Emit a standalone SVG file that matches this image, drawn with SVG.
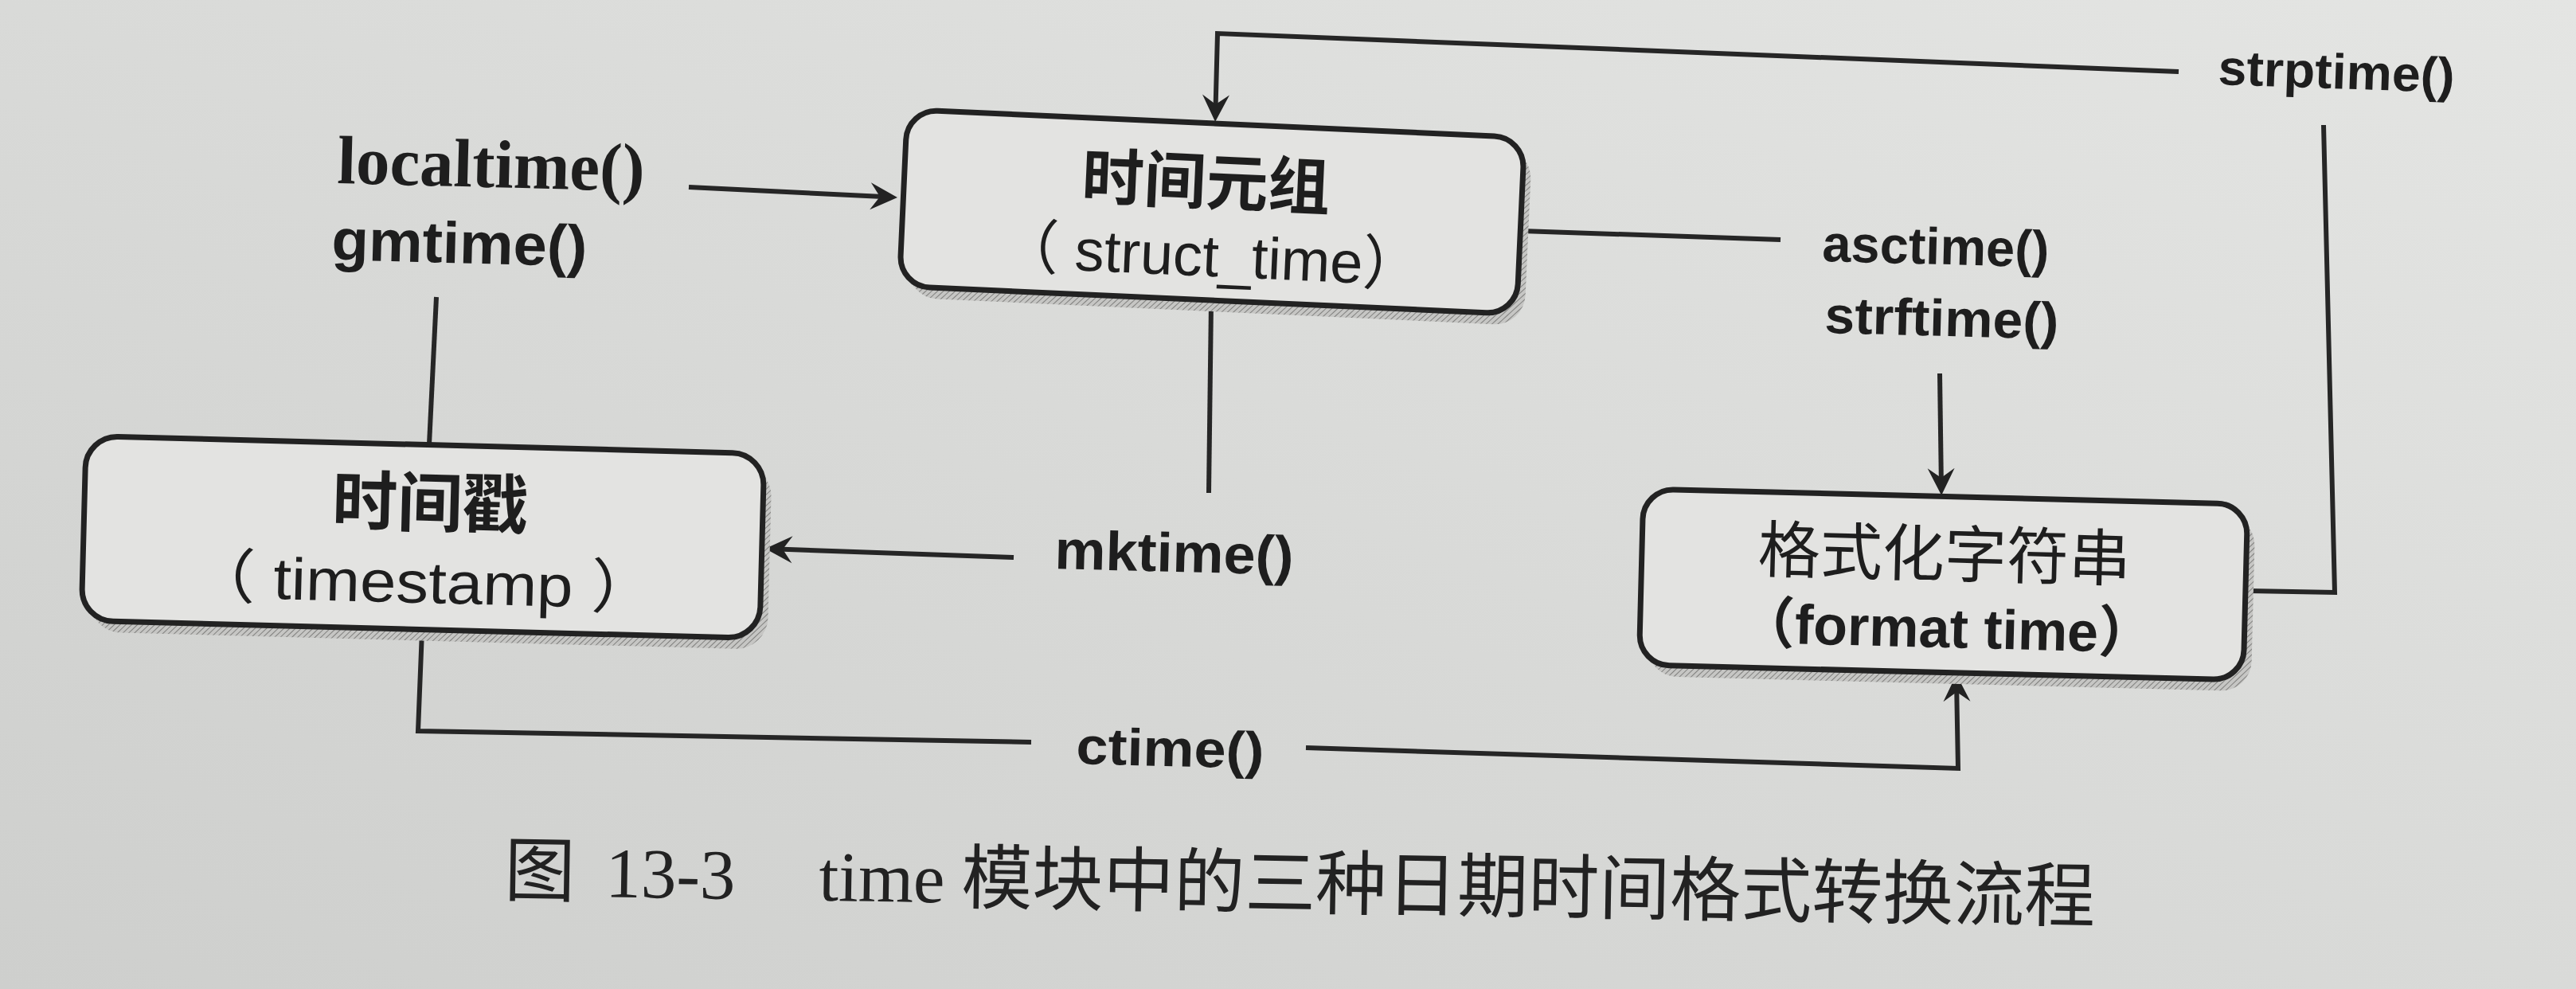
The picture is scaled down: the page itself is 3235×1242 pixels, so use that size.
<svg xmlns="http://www.w3.org/2000/svg" width="3235" height="1242" viewBox="0 0 3235 1242">
<defs>
<linearGradient id="paper" x1="0" y1="1" x2="1" y2="0">
<stop offset="0" stop-color="#cecfcd"/>
<stop offset="0.5" stop-color="#d9dad8"/>
<stop offset="1" stop-color="#e4e5e3"/>
</linearGradient>
<pattern id="hatch" width="5" height="5" patternUnits="userSpaceOnUse" patternTransform="rotate(45)">
<rect width="5" height="5" fill="#c6c6c4"/>
<line x1="0" y1="0" x2="0" y2="5" stroke="#80807e" stroke-width="2"/>
</pattern>
<marker id="arr" markerUnits="userSpaceOnUse" markerWidth="48" markerHeight="40" viewBox="-36 -20 48 40" refX="-8" refY="0" orient="auto">
<path d="M0,0 L-34,-17 L-22,0 L-34,17 Z" fill="#222"/>
</marker>
</defs>
<style>
.box{fill:#e3e3e1;stroke:#222;stroke-width:7}
.shadow{fill:url(#hatch);stroke:none}
.conn{fill:none;stroke:#262626;stroke-width:6;stroke-linejoin:miter}
.lbl{font-family:"Liberation Sans",sans-serif;font-weight:bold;fill:#1e1e1e}
.serif{font-family:"Liberation Serif",serif;font-weight:bold;fill:#1e1e1e}
.cjk{font-family:"Noto Sans CJK SC",sans-serif;fill:#1e1e1e;text-anchor:middle}
.sub{font-family:"Liberation Sans","Noto Sans CJK SC",sans-serif;fill:#1e1e1e;text-anchor:middle}
.cap{font-family:"Liberation Serif","Noto Sans CJK SC",serif;fill:#222}
.capc{font-family:"Noto Sans CJK SC",sans-serif;fill:#222}
</style>
<rect x="0" y="0" width="3235" height="1242" fill="url(#paper)"/>

<g id="connectors">
<path class="conn" d="M865,235 L1119,247.6" marker-end="url(#arr)"/>
<path class="conn" d="M548,373 L539,558"/>
<path class="conn" d="M1521,380 L1518,619"/>
<path class="conn" d="M1273,700 L969,689.3" marker-end="url(#arr)"/>
<path class="conn" d="M530,792 L525,918 L1295,932"/>
<path class="conn" d="M1640,939 L2459,965 L2457,855" marker-end="url(#arr)"/>
<path class="conn" d="M1911,290 L2236,301"/>
<path class="conn" d="M2436,469 L2438,614" marker-end="url(#arr)"/>
<path class="conn" d="M2824,742 L2932,744 L2918,157"/>
<path class="conn" d="M2736,90 L1529,42 L1526.3,145" marker-end="url(#arr)"/>
</g>

<g id="node-struct-time" transform="rotate(2.6 1522 266)">
<rect class="shadow" x="1144" y="169" width="776" height="222" rx="38"/>
<rect class="box" x="1134" y="155" width="776" height="222" rx="38"/>
<text class="cjk" x="1513" y="257" font-size="78" font-weight="bold">时间元组</text>
<text class="sub" x="1523" y="347" font-size="74">（ struct_time）</text>
</g>

<g id="node-timestamp" transform="rotate(1.5 531 674.5)">
<rect class="shadow" x="115" y="572.5" width="852" height="232" rx="40"/>
<rect class="box" x="105" y="558.5" width="852" height="232" rx="40"/>
<text class="cjk" x="539" y="661" font-size="82" font-weight="bold">时间戳</text>
<text class="sub" x="533" y="757" font-size="74" textLength="585" lengthAdjust="spacingAndGlyphs">（ timestamp ）</text>
</g>

<g id="node-format-time" transform="rotate(1.45 2440.5 734)">
<rect class="shadow" x="2071" y="637.5" width="759" height="221" rx="38"/>
<rect class="box" x="2061" y="623.5" width="759" height="221" rx="38"/>
<text class="cjk" x="2441" y="724" font-size="78">格式化字符串</text>
<text class="sub" x="2446" y="813" font-size="70" font-weight="bold">（format time）</text>
</g>

<g id="labels">
<text class="serif" x="423" y="230" font-size="86" textLength="386" lengthAdjust="spacingAndGlyphs" transform="rotate(1.5 423 230)">localtime()</text>
<text class="lbl" x="416" y="326" font-size="73" textLength="321" lengthAdjust="spacingAndGlyphs" transform="rotate(1.5 416 326)">gmtime()</text>
<text class="lbl" x="1324" y="714" font-size="69" textLength="300" lengthAdjust="spacingAndGlyphs" transform="rotate(1.5 1324 714)">mktime()</text>
<text class="lbl" x="1351" y="959" font-size="65" textLength="236" lengthAdjust="spacingAndGlyphs" transform="rotate(1.5 1351 959)">ctime()</text>
<text class="lbl" x="2288" y="328" font-size="65" textLength="285" lengthAdjust="spacingAndGlyphs" transform="rotate(1.5 2288 328)">asctime()</text>
<text class="lbl" x="2291" y="418" font-size="65" textLength="294" lengthAdjust="spacingAndGlyphs" transform="rotate(1.5 2291 418)">strftime()</text>
<text class="lbl" x="2785" y="106" font-size="62" textLength="297" lengthAdjust="spacingAndGlyphs" transform="rotate(2 2785 106)">strptime()</text>
</g>

<g id="caption" transform="rotate(0.95 680 1125)">
<text y="1125" font-size="89"><tspan class="capc" x="633">图 </tspan><tspan class="cap" x="760">13-3　</tspan><tspan class="cap" x="1028">time </tspan><tspan class="capc" x="1207">模块中的三种日期时间格式转换流程</tspan></text>
</g>
</svg>
